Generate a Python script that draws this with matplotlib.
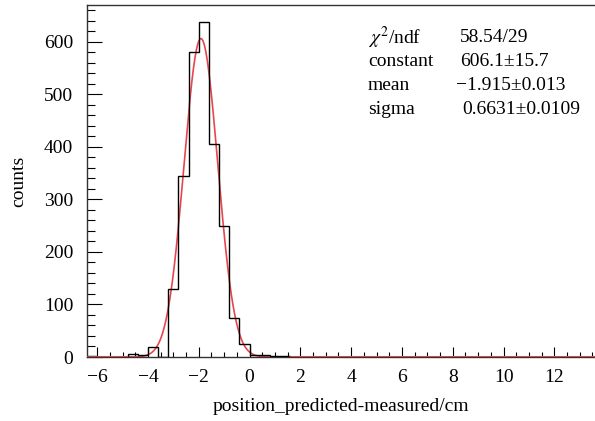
import matplotlib
matplotlib.use("Agg")
import matplotlib.pyplot as plt
import numpy as np
from matplotlib.ticker import MultipleLocator

plt.rcParams['font.family'] = ['Liberation Serif', 'DejaVu Serif']
plt.rcParams['mathtext.fontset'] = 'stix'

# histogram: 50 bins of 0.4 from -6.4 to 13.6
bin_lo = -6.4
bin_w = 0.4
counts = [2, 0, 0, 0, 6, 4, 19, 0, 129, 344,
          580, 637, 405, 250, 74, 25, 4, 3, 1, 1] + [0] * 30

# gaus fit result
fit_const = 606.1
fit_mean = -1.915
fit_sigma = 0.6631

stat_names = [r'$\chi^2$/ndf', 'constant', 'mean', 'sigma']
stat_values = ['58.54/29', '606.1\u00b115.7', '\u22121.915\u00b10.013', '0.6631\u00b10.0109']

edges = bin_lo + bin_w * np.arange(len(counts) + 1)

fig = plt.figure(figsize=(5.95, 4.21), dpi=100)
ax = fig.add_axes([87 / 595, 64 / 421, 508 / 595, 352 / 421])

xf = np.linspace(edges[0], edges[-1], 2000)
yf = fit_const * np.exp(-0.5 * ((xf - fit_mean) / fit_sigma) ** 2)
ax.plot(xf, yf, color='#e8464e', lw=1.2, zorder=2)
ax.stairs(counts, edges, color='black', lw=1.0, zorder=3)
ax.plot(xf[xf > 1.6], yf[xf > 1.6], color='#e8464e', lw=1.2, zorder=4)
ax.plot(xf[xf < -4.8], yf[xf < -4.8], color='#e8464e', lw=1.2, zorder=4)

ax.set_xlim(edges[0], edges[-1])
ax.set_ylim(0, 670)

ax.xaxis.set_major_locator(MultipleLocator(2))
ax.xaxis.set_minor_locator(MultipleLocator(0.5))
ax.yaxis.set_major_locator(MultipleLocator(100))
ax.yaxis.set_minor_locator(MultipleLocator(20))

ax.tick_params(axis='x', which='major', direction='in', length=7.5, width=0.8, pad=9, labelsize=14)
ax.tick_params(axis='x', which='minor', direction='in', length=3.5, width=0.8)
ax.tick_params(axis='y', which='major', direction='in', length=11, width=0.8, pad=10, labelsize=14)
ax.tick_params(axis='y', which='minor', direction='in', length=5.5, width=0.8)
ax.tick_params(top=False, right=False, which='both')

for s in ['left', 'bottom', 'top']:
    ax.spines[s].set_linewidth(1.0)
    ax.spines[s].set_color('#333333')
ax.spines['right'].set_visible(False)

ax.set_xlabel('position_predicted-measured/cm', fontsize=14, labelpad=8)
ax.set_ylabel('counts', fontsize=14, labelpad=12)

# stats box text
val_x = [460, 460, 456, 462]
for i, (n, v) in enumerate(zip(stat_names, stat_values)):
    y = 1 - (38 + 24 * i) / 421
    fig.text(368 / 595, y, n, fontsize=14, va='center', ha='left')
    fig.text(val_x[i] / 595, y, v, fontsize=14, va='center', ha='left')

fig.savefig('out.png', dpi=100)
